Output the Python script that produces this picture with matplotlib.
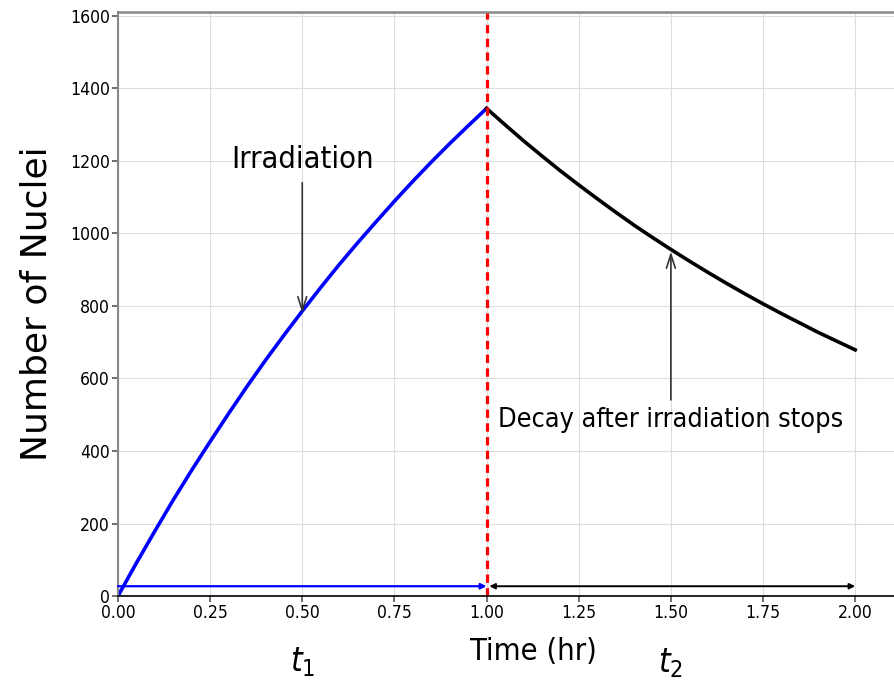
import matplotlib
matplotlib.use("Agg")
import matplotlib.pyplot as plt
from matplotlib import font_manager as fm

# values
t_irr = [0.0, 0.05, 0.1, 0.15, 0.2, 0.25, 0.3, 0.35, 0.4, 0.45, 0.5,
         0.55, 0.6, 0.65, 0.7, 0.75, 0.8, 0.85, 0.9, 0.95, 1.0]
n_irr = [0, 91, 179, 265, 347, 426, 503, 578, 650, 719, 786,
         851, 914, 974, 1032, 1089, 1144, 1197, 1248, 1297, 1345]
t_dec = [1.0, 1.05, 1.1, 1.15, 1.2, 1.25, 1.3, 1.35, 1.4, 1.45, 1.5,
         1.55, 1.6, 1.65, 1.7, 1.75, 1.8, 1.85, 1.9, 1.95, 2.0]
n_dec = [1345, 1300, 1256, 1214, 1173, 1134, 1096, 1059, 1023, 989, 956,
         924, 893, 863, 834, 806, 779, 753, 727, 703, 679]

x_ticks = [0.0, 0.25, 0.5, 0.75, 1.0, 1.25, 1.5, 1.75, 2.0]
x_ticklabels = ["0.00", "0.25", "0.50", "0.75", "1.00", "1.25", "1.50", "1.75", "2.00"]
y_ticks = [0, 200, 400, 600, 800, 1000, 1200, 1400, 1600]

# the reference text is squeezed sideways: use a condensed face if there is one
cond = [f for f in fm.fontManager.ttflist
        if f.name == "DejaVu Sans" and "condensed" in str(f.stretch)]
narrow_names = [f.name for f in fm.fontManager.ttflist
                if "Narrow" in f.name or "Condensed" in f.name]
if cond:
    plt.rcParams["font.family"] = ["DejaVu Sans"]
    plt.rcParams["font.stretch"] = "condensed"
elif narrow_names:
    plt.rcParams["font.family"] = [narrow_names[0], "DejaVu Sans"]
else:
    plt.rcParams["font.family"] = ["DejaVu Sans"]

fig = plt.figure(figsize=(8.95, 6.81), dpi=100)
ax = fig.add_axes([0.1318, 0.1248, 0.8682, 0.8576])

ax.plot(t_irr, n_irr, color="blue", lw=2.6, solid_joinstyle="round")
ax.plot(t_dec, n_dec, color="black", lw=2.6, solid_joinstyle="round")
ax.axvline(1.0, color="red", lw=2.3, dashes=(2.6, 1.7))

# time spans along the bottom
ax.annotate("", xy=(1.0, 27), xytext=(0.0, 27),
            arrowprops=dict(arrowstyle="-|>", color="blue", lw=1.6, mutation_scale=8,
                            shrinkA=0, shrinkB=0))
ax.annotate("", xy=(2.0, 27), xytext=(1.0, 27),
            arrowprops=dict(arrowstyle="<|-|>", color="black", lw=1.4, mutation_scale=8,
                            shrinkA=2, shrinkB=0))

# labels with arrows
head = "->, head_width=0.16, head_length=0.5"
txt_irr = ax.text(0.5, 1203, "Irradiation", fontsize=27, ha="center", va="center")
ax.annotate("", xy=(0.5, 780), xytext=(0.5, 1140),
            arrowprops=dict(arrowstyle=head, color="#333333", lw=1.2, mutation_scale=20,
                            shrinkA=0, shrinkB=0))
txt_dec = ax.text(1.5, 486, "Decay after irradiation stops", fontsize=23,
                  ha="center", va="center")
ax.annotate("", xy=(1.5, 950), xytext=(1.5, 541),
            arrowprops=dict(arrowstyle=head, color="#333333", lw=1.2, mutation_scale=20,
                            shrinkA=0, shrinkB=0))

ax.text(0.5, -182, "$t_1$", fontsize=24, ha="center", va="center", clip_on=False)
ax.text(1.5, -185, "$t_2$", fontsize=24, ha="center", va="center", clip_on=False)
txt_time = ax.text(1.126, -154, "Time (hr)", fontsize=26, ha="center", va="center",
                   clip_on=False)

ax.set_ylabel("Number of Nuclei", fontsize=26, family="DejaVu Sans", stretch="normal",
              labelpad=12)

ax.set_xlim(0, 2.108)
ax.set_ylim(0, 1611)
ax.set_xticks(x_ticks)
ax.set_xticklabels(x_ticklabels)
ax.set_yticks(y_ticks)
ax.tick_params(labelsize=14, length=4, width=1.2, color="#555555", pad=2)

ax.grid(True, color="#dddddd", lw=0.8)
ax.set_axisbelow(True)

ax.spines["left"].set_color("#888888")
ax.spines["top"].set_color("#888888")
ax.spines["left"].set_linewidth(1.5)
ax.spines["top"].set_linewidth(1.8)
ax.spines["bottom"].set_color("black")
ax.spines["bottom"].set_linewidth(1.2)
ax.spines["right"].set_visible(False)

# scale the text so that its width matches the reference
renderer = fig.canvas.get_renderer()
for t, width_px in [(txt_irr, 142), (txt_dec, 346), (txt_time, 127)]:
    w = t.get_window_extent(renderer).width
    t.set_fontsize(t.get_fontsize() * width_px / w)
for lab in ax.get_yticklabels():
    w = lab.get_window_extent(renderer).width
    if lab.get_text() == "1600":
        yscale = 40 / w
for lab in ax.get_xticklabels() + ax.get_yticklabels():
    lab.set_fontsize(14 * yscale)

fig.savefig("out.png", dpi=100)
